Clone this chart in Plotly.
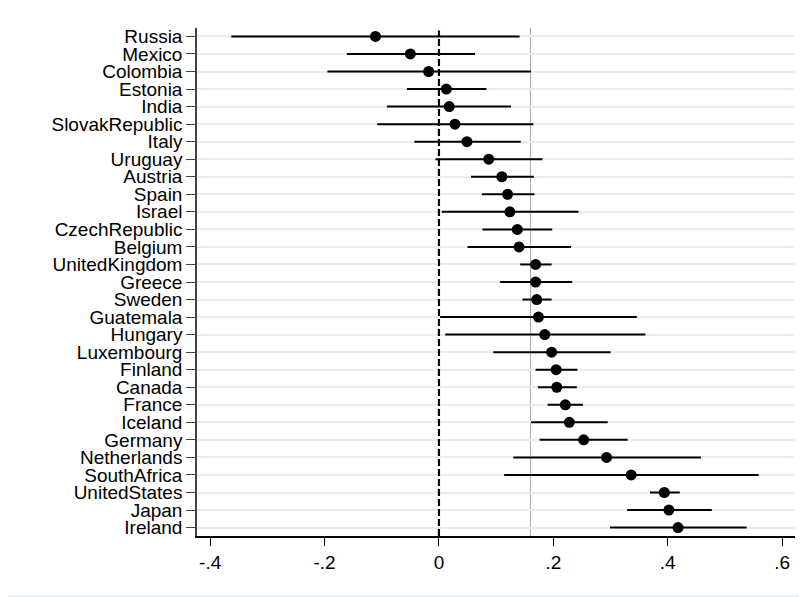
import plotly.graph_objects as go

countries = ["Russia", "Mexico", "Colombia", "Estonia", "India", "SlovakRepublic", "Italy",
             "Uruguay", "Austria", "Spain", "Israel", "CzechRepublic", "Belgium", "UnitedKingdom",
             "Greece", "Sweden", "Guatemala", "Hungary", "Luxembourg", "Finland", "Canada",
             "France", "Iceland", "Germany", "Netherlands", "SouthAfrica", "UnitedStates",
             "Japan", "Ireland"]
coef = [-0.111, -0.050, -0.018, 0.013, 0.018, 0.028, 0.049,
        0.087, 0.110, 0.120, 0.124, 0.137, 0.140, 0.169,
        0.169, 0.171, 0.174, 0.185, 0.197, 0.205, 0.206,
        0.221, 0.228, 0.253, 0.293, 0.336, 0.394,
        0.402, 0.418]
ci_low = [-0.363, -0.161, -0.195, -0.056, -0.091, -0.108, -0.043,
          -0.006, 0.056, 0.075, 0.005, 0.076, 0.050, 0.142,
          0.107, 0.146, 0.002, 0.011, 0.095, 0.169, 0.173,
          0.190, 0.161, 0.176, 0.130, 0.114, 0.369,
          0.329, 0.299]
ci_high = [0.141, 0.063, 0.161, 0.083, 0.126, 0.165, 0.143,
           0.181, 0.166, 0.167, 0.244, 0.198, 0.231, 0.197,
           0.233, 0.197, 0.346, 0.361, 0.300, 0.242, 0.241,
           0.252, 0.295, 0.330, 0.458, 0.559, 0.421,
           0.477, 0.538]
ref_value = 0.16
x_ticks = [-0.4, -0.2, 0, 0.2, 0.4, 0.6]
x_ticklabels = ["-.4", "-.2", "0", ".2", ".4", ".6"]

err_plus = [h - c for h, c in zip(ci_high, coef)]
err_minus = [c - l for c, l in zip(coef, ci_low)]

FONT = "Arial, Liberation Sans, Helvetica, sans-serif"

fig = go.Figure()
fig.add_trace(go.Scatter(
    x=coef, y=countries, mode="markers",
    marker=dict(color="black", size=11),
    error_x=dict(type="data", array=err_plus, arrayminus=err_minus,
                 color="black", thickness=2, width=0),
    showlegend=False, cliponaxis=False,
))

shapes = [
    dict(type="line", xref="x", yref="paper", x0=0, x1=0, y0=0, y1=0.995,
         line=dict(color="black", width=2.2, dash="7px,3px"), layer="above"),
    dict(type="line", xref="x", yref="paper", x0=ref_value, x1=ref_value, y0=0, y1=1,
         line=dict(color="#aaaaaa", width=1), layer="below"),
    dict(type="rect", xref="paper", yref="paper", x0=-0.3202, x1=1.03, y0=-0.118, y1=1.0427,
         line=dict(color="#e6eef0", width=1.5), fillcolor="rgba(0,0,0,0)", layer="below"),
]

fig.update_layout(
    width=807, height=597,
    margin=dict(l=189, r=20, t=20, b=69),
    paper_bgcolor="white", plot_bgcolor="white",
    font=dict(family=FONT, size=19, color="black"),
    shapes=shapes,
    xaxis=dict(range=[-0.423, 0.6225], tickvals=x_ticks, ticktext=x_ticklabels,
               showgrid=False, zeroline=False, showline=True, linecolor="black",
               linewidth=1.5, ticks="outside", ticklen=8, tickwidth=1.2,
               tickcolor="black", tickfont=dict(size=19)),
    yaxis=dict(type="category", categoryorder="array", categoryarray=countries,
               tickmode="array", tickvals=countries, ticktext=countries,
               range=[28.48, -0.48], showgrid=True, gridcolor="#e6eef0", gridwidth=1.5,
               zeroline=False, showline=True, linecolor="#444444", linewidth=1.5,
               ticks="outside", ticklen=9, tickwidth=1.2, tickcolor="#444444",
               tickfont=dict(size=19)),
)

fig.write_html("out.html")
